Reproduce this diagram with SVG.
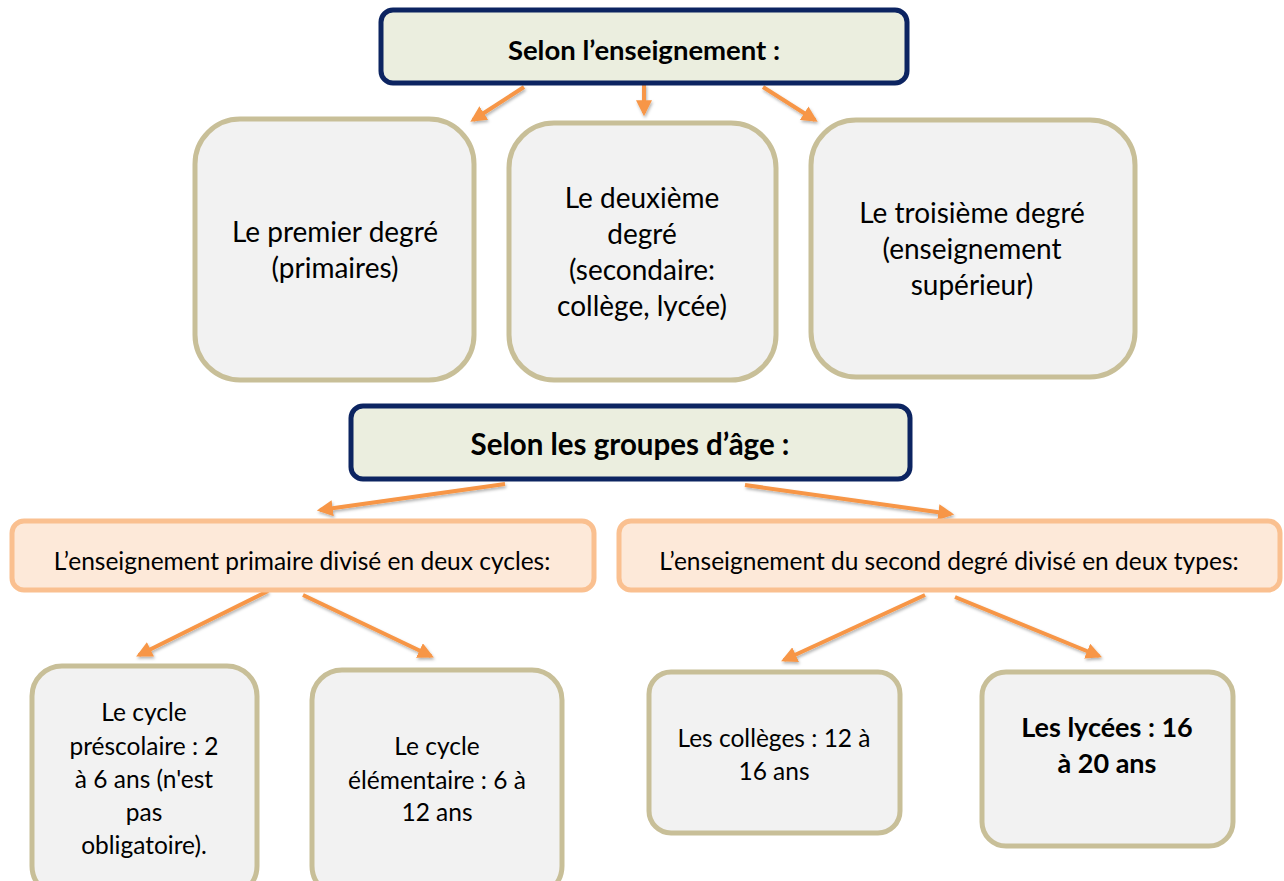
<svg xmlns="http://www.w3.org/2000/svg" width="1284" height="881" viewBox="0 0 1284 881">
<style>
.hdr{fill:#ebeedf;stroke:#0c2461;stroke-width:5}
.card{fill:#f2f2f2;stroke:#c8bf98;stroke-width:5}
.org{fill:#fde9d9;stroke:#fac090;stroke-width:5}
text{font-family:Lato,"Open Sans","Liberation Sans",sans-serif;fill:#000;text-anchor:middle}
.t{font-size:28px}
.s{font-size:24.5px}
.b{font-weight:bold}
.arr{stroke:#f79646;stroke-width:4;fill:none;marker-end:url(#ah)}
</style>
<defs>
<marker id="ah" viewBox="0 0 10 10" refX="8" refY="5" markerWidth="4" markerHeight="4" orient="auto" markerUnits="strokeWidth">
<path d="M0,0 L10,5 L0,10 z" fill="#f79646"/>
</marker>
<filter id="sh" x="-20%" y="-20%" width="140%" height="140%">
<feDropShadow dx="1" dy="2" stdDeviation="1.5" flood-color="#000" flood-opacity="0.3"/>
</filter>
</defs>
<rect width="1284" height="881" fill="#fff"/>

<g id="connectors" filter="url(#sh)">
<line class="arr" x1="524" y1="87" x2="473" y2="120"/>
<line class="arr" x1="644" y1="84" x2="644" y2="113"/>
<line class="arr" x1="763" y1="87" x2="815" y2="120"/>
<line class="arr" x1="505" y1="484" x2="320" y2="510"/>
<line class="arr" x1="745" y1="485" x2="951" y2="514"/>
<line class="arr" x1="268" y1="591" x2="139" y2="655"/>
<line class="arr" x1="303" y1="595" x2="431" y2="656"/>
<line class="arr" x1="925" y1="595" x2="784" y2="660"/>
<line class="arr" x1="955" y1="597" x2="1099" y2="656"/>
</g>

<g id="n_enseignement">
<rect class="hdr" x="381" y="10" width="526" height="73" rx="12"/>
<text class="b" x="644" y="60" font-size="27.5">Selon l’enseignement :</text>
</g>

<g id="n_premier">
<rect class="card" x="195" y="119" width="279" height="261" rx="45"/>
<text class="t" x="335" y="242">Le premier degré</text>
<text class="t" x="335" y="278">(primaires)</text>
</g>

<g id="n_deuxieme">
<rect class="card" x="509" y="123" width="267" height="257" rx="45"/>
<text class="t" x="642" y="208">Le deuxième</text>
<text class="t" x="642" y="244">degré</text>
<text class="t" x="642" y="280">(secondaire:</text>
<text class="t" x="642" y="316">collège, lycée)</text>
</g>

<g id="n_troisieme">
<rect class="card" x="811" y="120" width="324" height="257" rx="45"/>
<text class="t" x="972" y="223">Le troisième degré</text>
<text class="t" x="972" y="259">(enseignement</text>
<text class="t" x="972" y="295">supérieur)</text>
</g>

<g id="n_groupes">
<rect class="hdr" x="351" y="406" width="559" height="73" rx="12"/>
<text class="b" x="630" y="455" font-size="29.5">Selon les groupes d’âge :</text>
</g>

<g id="n_primaire">
<rect class="org" x="12" y="521" width="582" height="69" rx="12"/>
<text class="s" x="302" y="570">L’enseignement primaire divisé en deux cycles:</text>
</g>

<g id="n_second">
<rect class="org" x="619" y="521" width="661" height="69" rx="12"/>
<text class="s" x="949" y="570">L’enseignement du second degré divisé en deux types:</text>
</g>

<g id="n_prescolaire">
<rect class="card" x="32" y="666" width="225" height="230" rx="30"/>
<text class="s" x="144" y="721">Le cycle</text>
<text class="s" x="144" y="755">préscolaire : 2</text>
<text class="s" x="144" y="788">à 6 ans (n'est</text>
<text class="s" x="144" y="821">pas</text>
<text class="s" x="144" y="854">obligatoire).</text>
</g>

<g id="n_elementaire">
<rect class="card" x="312" y="670" width="250" height="226" rx="30"/>
<text class="s" x="437" y="755">Le cycle</text>
<text class="s" x="437" y="789">élémentaire : 6 à</text>
<text class="s" x="437" y="821">12 ans</text>
</g>

<g id="n_colleges">
<rect class="card" x="649" y="672" width="251" height="161" rx="22"/>
<text class="s" x="774" y="747">Les collèges : 12 à</text>
<text class="s" x="774" y="780">16 ans</text>
</g>

<g id="n_lycees">
<rect class="card" x="982" y="672" width="251" height="174" rx="24" stroke-width="12"/>
<text class="b" x="1107" y="737" font-size="27">Les lycées : 16</text>
<text class="b" x="1107" y="773" font-size="27">à 20 ans</text>
</g>
</svg>
